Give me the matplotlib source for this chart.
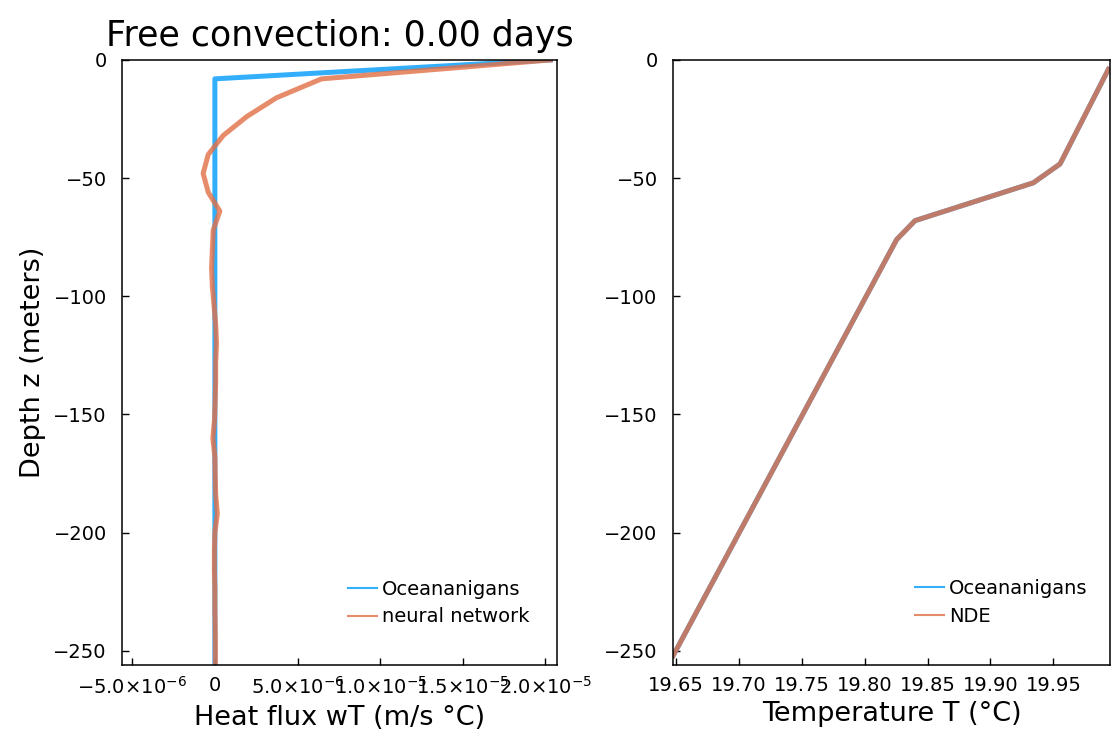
import matplotlib
matplotlib.use("Agg")
import matplotlib.pyplot as plt
from matplotlib.ticker import FixedLocator, FixedFormatter

plt.rcParams['font.family'] = ['DejaVu Sans']
plt.rcParams['mathtext.fontset'] = 'dejavusans'

# Heat flux profiles at cell faces (m), surface down to the bottom
z_faces = [0, -8, -16, -24, -32, -40, -48, -56, -64, -72, -80, -88, -96, -104,
           -112, -120, -128, -136, -144, -152, -160, -168, -176, -184, -192,
           -200, -208, -216, -224, -232, -240, -248, -256]
wT_oceananigans = [2.03e-5] + [0.0] * 32
wT_nn = [2.03e-5, 6.45e-6, 3.73e-6, 1.92e-6, 0.50e-6, -0.40e-6, -0.71e-6,
         -0.40e-6, 0.30e-6, -0.10e-6, -0.15e-6, -0.20e-6, -0.15e-6, -0.05e-6,
         0.05e-6, 0.10e-6, 0.05e-6, 0.05e-6, 0.02e-6, -0.02e-6, -0.12e-6,
         0.0, 0.02e-6, 0.05e-6, 0.15e-6, 0.0, -0.03e-6, -0.03e-6, 0.0, 0.0,
         0.02e-6, 0.03e-6, 0.03e-6]

# Temperature profile vertices (m, degC)
z_T = [-4, -44, -52, -60, -68, -76, -252]
T_oceananigans = [19.9937, 19.9553, 19.9340, 19.887, 19.840, 19.8254, 19.6478]
T_nde = [19.9937, 19.9553, 19.9340, 19.887, 19.840, 19.8254, 19.6478]

flux_ticks = [-5e-6, 0, 5e-6, 1e-5, 1.5e-5, 2e-5]
flux_ticklabels = ["\u22125.0\u00d710$^{-6}$", "0", "5.0\u00d710$^{-6}$",
                   "1.0\u00d710$^{-5}$", "1.5\u00d710$^{-5}$",
                   "2.0\u00d710$^{-5}$"]
temp_ticks = [19.65, 19.70, 19.75, 19.80, 19.85, 19.90, 19.95]
temp_ticklabels = ["19.65", "19.70", "19.75", "19.80", "19.85", "19.90", "19.95"]
depth_ticks = [0, -50, -100, -150, -200, -250]
depth_ticklabels = ["0", "\u221250", "\u2212100", "\u2212150", "\u2212200", "\u2212250"]

BLUE = "#009AFA"
ORANGE = "#E26F46"
ALPHA = 0.8
LW = 3.6
TICK_FS = 14
LABEL_FS = 19.5
TITLE_FS = 25

fig = plt.figure(figsize=(11.14, 7.42), dpi=100)
ax1 = fig.add_axes([0.1095, 0.1038, 0.3905, 0.8154])
ax2 = fig.add_axes([0.6041, 0.1038, 0.3923, 0.8154])

ax1.plot(wT_oceananigans, z_faces, color=BLUE, alpha=ALPHA, lw=LW, label="Oceananigans")
ax1.plot(wT_nn, z_faces, color=ORANGE, alpha=ALPHA, lw=LW, label="neural network")
ax2.plot(T_oceananigans, z_T, color=BLUE, alpha=ALPHA, lw=LW, label="Oceananigans")
ax2.plot(T_nde, z_T, color=ORANGE, alpha=ALPHA, lw=LW, label="NDE")

ax1.set_xlim(-5.62e-6, 2.07e-5)
ax2.set_xlim(19.6476, 19.995)
for ax in (ax1, ax2):
    ax.set_ylim(-256, 0)
    ax.yaxis.set_major_locator(FixedLocator(depth_ticks))
    ax.yaxis.set_major_formatter(FixedFormatter(depth_ticklabels))
    ax.tick_params(axis='both', direction='in', length=5, width=1,
                   labelsize=TICK_FS, top=False, right=False)
    ax.tick_params(axis='x', pad=8)
    ax.tick_params(axis='y', pad=11)
    for sp in ax.spines.values():
        sp.set_linewidth(1.1)

ax1.xaxis.set_major_locator(FixedLocator(flux_ticks))
ax1.xaxis.set_major_formatter(FixedFormatter(flux_ticklabels))
ax2.xaxis.set_major_locator(FixedLocator(temp_ticks))
ax2.xaxis.set_major_formatter(FixedFormatter(temp_ticklabels))

ax1.set_xlabel("Heat flux wT (m/s \u00b0C)", fontsize=LABEL_FS, labelpad=5)
ax1.set_ylabel("Depth z (meters)", fontsize=LABEL_FS, labelpad=5)
ax2.set_xlabel("Temperature T (\u00b0C)", fontsize=LABEL_FS, labelpad=4)
ax1.set_title("Free convection: 0.00 days", fontsize=TITLE_FS, pad=10)

legend_kw = dict(frameon=False, fontsize=TICK_FS, loc='center left',
                 borderpad=0, borderaxespad=0, handlelength=1.5,
                 handletextpad=0.25, labelspacing=0.45)
for ax, anchor in ((ax1, (0.5195, 0.1025)), (ax2, (0.5538, 0.103))):
    leg = ax.legend(bbox_to_anchor=anchor, **legend_kw)
    for line in leg.get_lines():
        line.set_linewidth(1.5)

fig.savefig("out.png", dpi=100)
